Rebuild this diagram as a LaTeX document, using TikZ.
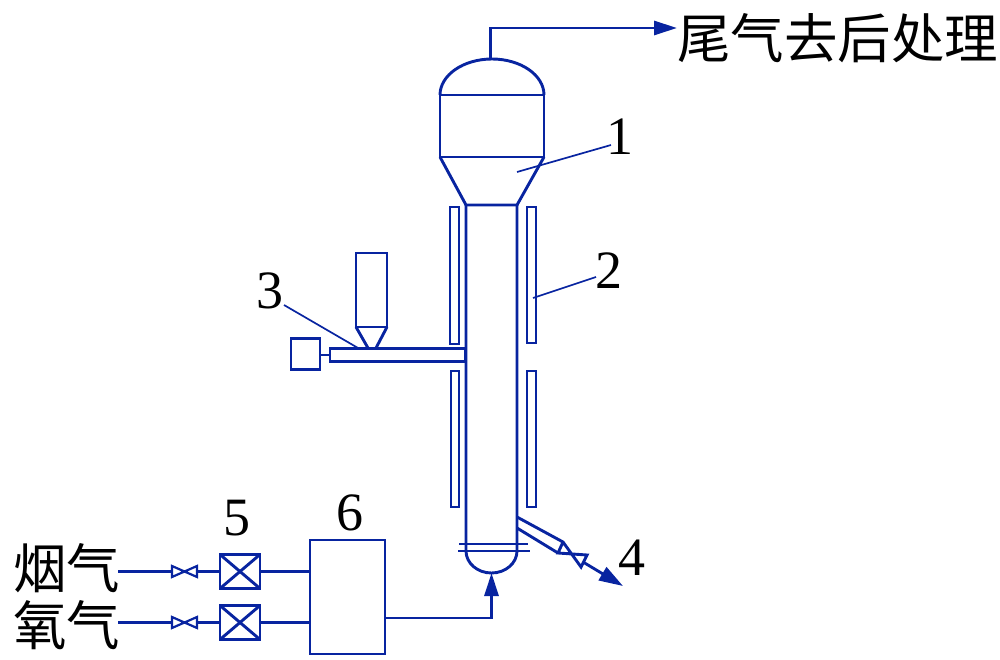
\documentclass[tikz,border=0pt]{standalone}
\usepackage{fontspec}
\setmainfont{Liberation Serif}
\newfontfamily\cjk{Noto Sans CJK SC}
\usetikzlibrary{arrows.meta}
\definecolor{pipeblue}{RGB}{8,36,160}
\tikzset{
  pipe/.style={draw=pipeblue,line width=2.9pt},
  thin pipe/.style={draw=pipeblue,line width=2.2pt},
  leader/.style={draw=pipeblue,line width=1.7pt},
  flow/.style={pipe,-{Triangle[length=23pt,width=14pt]}},
  blockbox/.style={pipe,rectangle,inner sep=0pt,outer sep=0pt},
  mixbox/.style={blockbox,minimum width=40pt,minimum height=34pt},
  num/.style={inner sep=0pt,font=\fontsize{54}{54}\selectfont},
  hanzi/.style={inner sep=0pt,font=\cjk\fontsize{53.5}{54}\selectfont},
}
\begin{document}
\begin{tikzpicture}[x=1pt,y=-1pt]
\useasboundingbox (0,0) rectangle (1000,660);
% reactor head
\draw[pipe] (440,95) arc[start angle=180,end angle=360,x radius=52,y radius=36];
\draw[pipe] (440,95) -- (544,95) -- (544,157) -- (440,157) -- cycle;
\draw[pipe] (440,157) -- (466,205) -- (517,205) -- (544,157);
% riser
\draw[pipe] (466,205) -- (466,551) arc[start angle=180,end angle=0,x radius=25.5,y radius=22] -- (517,205);
\draw[pipe] (459,544) -- (528,544);
\draw[pipe] (458,551) -- (530,551);
% jacket
\foreach \xa/\xb/\ya/\yb in {450/459/207/344,527/536/207/343,451/459/371/507,527/536/371/507}
  \draw[thin pipe] (\xa,\ya) rectangle (\xb,\yb);
% feeder
\draw[pipe] (356,327) -- (356,253) -- (387,253) -- (387,327) -- cycle;
\draw[pipe] (356,327) -- (368,348);
\draw[pipe] (387,327) -- (376,348);
\node[blockbox,minimum width=135pt,minimum height=13pt] (screw) at (397.5,355) {};
\node[blockbox,minimum width=29pt,minimum height=31pt] (motor) at (305.5,354) {};
\draw[thin pipe] (screw.west -| motor.east) -- (screw.west);
% outlet
\draw[pipe] (517,517) -- (563,542) -- (581,567) -- (587,555) -- (558,553) -- (563,542);
\draw[pipe] (517,528) -- (558,553);
\coordinate (outstart) at (583,562);
\coordinate (outend) at (623,586);
\draw[pipe,-{Triangle[length=24pt,width=15pt]}] (outstart) -- (outend);
% off gas
\coordinate (top) at (490.5,59);
\node[hanzi,anchor=west] (offgas) at (677,38) {尾气去后处理};
\draw[flow] (top) |- ([yshift=10pt]offgas.west);
% gas lines
\node[hanzi,anchor=west] (flue) at (13,568) {烟气};
\node[hanzi,anchor=west] (oxy) at (13,625) {氧气};
\node[blockbox,minimum width=75pt,minimum height=114pt] (mixer) at (347.5,597) {};
\foreach \g/\y in {flue/571.5,oxy/622.5}{
  \node[mixbox] (box\g) at (240,\y) {};
  \draw[pipe] (box\g.north west) -- (box\g.south east);
  \draw[pipe] (box\g.south west) -- (box\g.north east);
  \draw[thin pipe] (172,\y-5.5) -- (197,\y+5.5) -- (197,\y-5.5) -- (172,\y+5.5) -- cycle;
  \draw[thin pipe] (118,\y) -- (172,\y);
  \draw[thin pipe] (197,\y) -- (box\g.west);
  \draw[thin pipe] (box\g.east) -- (310,\y);
}
% feed to riser
\coordinate (bottom) at (491.5,573);
\draw[flow] (mixer.east|-0,618) -| (bottom);
% leaders and numbers
\node[num] (n1) at (620,137) {1};
\node[num] (n2) at (609,271) {2};
\node[num] (n3) at (270,291) {3};
\node[num] (n4) at (632,558) {4};
\node[num] (n5) at (237,518) {5};
\node[num] (n6) at (350,513) {6};
\draw[leader] (611,145) -- (517,172);
\draw[leader] (596,277) -- (533,298);
\draw[leader] (284,305) -- (358,348);
\end{tikzpicture}
\end{document}
